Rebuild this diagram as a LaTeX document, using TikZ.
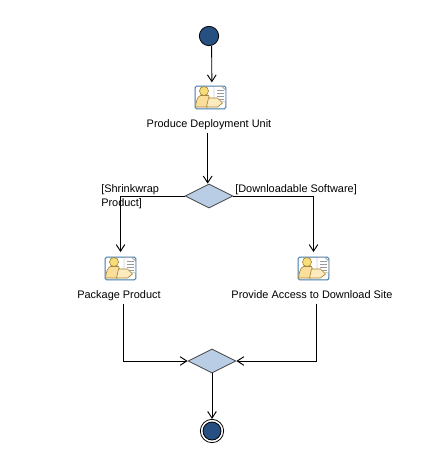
\documentclass[tikz,border=0pt]{standalone}
\usepackage{fontspec}
\setmainfont{Liberation Sans}
\usepackage{xcolor}
\usetikzlibrary{arrows.meta,calc,positioning,shapes.geometric}
\definecolor{nodefill}{HTML}{264F82}
\definecolor{gatefill}{HTML}{B9CDE5}
\definecolor{iconedge}{HTML}{3F78A6}
\definecolor{iconbody}{HTML}{F9DF9B}
\definecolor{iconlight}{HTML}{FCEBBE}
\definecolor{iconhead}{HTML}{F6DF7A}
\definecolor{iconline}{HTML}{A8843A}
\tikzset{
  flow/.style={draw=black,line width=0.7pt,-{Straight Barb[length=5pt,width=6.5pt]}},
  gate/.style={diamond,draw=black!75,fill=gatefill,line width=0.6pt,inner sep=0pt,minimum width=36pt,minimum height=18pt},
  startnode/.style={circle,draw=black,fill=nodefill,line width=0.6pt,inner sep=0pt,minimum size=14.5pt},
  endring/.style={circle,draw=black,fill=white,line width=0.6pt,inner sep=0pt,minimum size=17.5pt},
  iconbox/.style={rectangle,rounded corners=1pt,draw=iconedge,fill=white,line width=0.7pt,inner sep=0pt,minimum width=23pt,minimum height=17pt},
  tasklabel/.style={font=\fontsize{8.2pt}{10pt}\selectfont,inner sep=0pt,text height=6pt,text depth=1.5pt},
  worker/.pic={
    \draw[black!50,fill=white,line width=0.35pt] (3.5,-11) -- (11.5,-11) -- (15,-7.5) -- (15,4) -- (3.5,4) -- cycle;
    \foreach \y in {-7,-4,-1,2} \draw[black!40,line width=0.45pt] (6.5,\y) -- (13,\y);
    \draw[iconline,fill=iconbody,line width=0.5pt] (-15,9.5) .. controls (-14.5,4) and (-13,-1) .. (-10,-2) -- (-2,-2) -- (-0.5,2) -- (-3,9.5) -- cycle;
    \draw[iconline,fill=iconlight,line width=0.5pt] (-2,0.5) -- (7,0.5) -- (12,5.5) -- (7,9.5) -- (-4,9.5) -- cycle;
    \draw[iconline,fill=iconhead,line width=0.5pt] (-6.5,-6.5) circle (4.5);
  }
}
\begin{document}
\begin{tikzpicture}[x=0.75pt,y=-0.75pt]
\useasboundingbox (0,0) rectangle (423,464);
% start and first task
\node[startnode] (start) at (209,36) {};
\node[iconbox] (produceIcon) at (210.5,97.5) {};
\pic at (produceIcon) {worker};
\node[tasklabel] (produceLabel) at (209,124) {Produce Deployment Unit};
% decision
\node[gate] (split) at (209,196) {};
\node[tasklabel,anchor=west] (shrinkLabel) at (101,189) {[Shrinkwrap};
\node[tasklabel,anchor=west] (shrinkLabelTwo) at (101,203) {Product]};
\node[tasklabel,anchor=west] (downloadLabel) at (235,189) {[Downloadable Software]};
% two branches
\node[iconbox] (packageIcon) at (120.5,268.5) {};
\pic at (packageIcon) {worker};
\node[tasklabel] (packageLabel) at (119,295) {Package Product};
\node[iconbox] (accessIcon) at (313.5,268.5) {};
\pic at (accessIcon) {worker};
\node[tasklabel] (accessLabel) at (312,295) {Provide Access to Download Site};
% merge and end
\node[gate] (merge) at (212,361) {};
\node[endring] (finish) at (212,431) {};
\node[startnode,minimum size=13.5pt] (finishCore) at (finish) {};
% connectors
\draw[flow,shorten >=2.5pt] ([xshift=2pt]start.south) -- ([xshift=1pt]produceIcon.north);
\draw[flow] ([xshift=-1pt,yshift=-2.5pt]produceLabel.south) -- ([xshift=-1pt]split.north);
\draw[flow,shorten >=3.5pt] (split.west) -| (packageIcon.north);
\draw[flow,shorten >=3.5pt] (split.east) -| (accessIcon.north);
\draw[flow] ([xshift=3pt,yshift=-2.5pt]packageLabel.south) |- (merge.west);
\draw[flow] ([xshift=3pt,yshift=-2.5pt]accessLabel.south) |- (merge.east);
\draw[flow] (merge.south) -- (finish.north);
\end{tikzpicture}
\end{document}
